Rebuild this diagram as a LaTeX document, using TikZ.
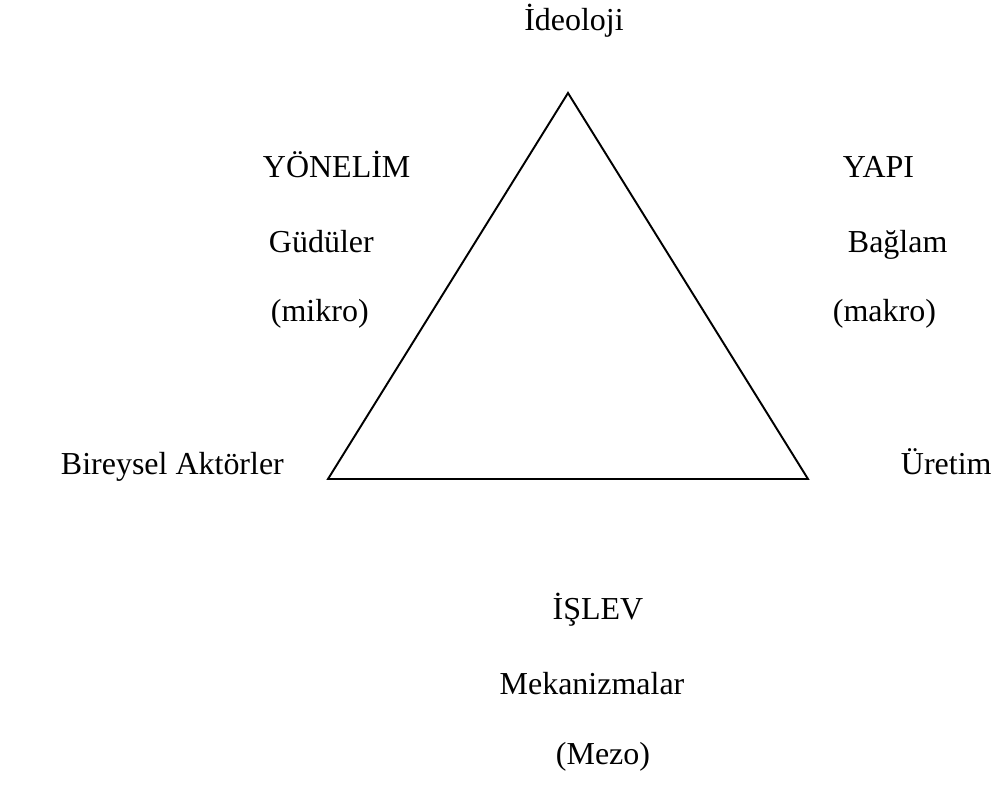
\documentclass[tikz,border=0pt]{standalone}
\usepackage{fontspec}
\setmainfont{Liberation Serif}
\usetikzlibrary{positioning,calc}

\begin{document}
\begin{tikzpicture}[x=0.02cm, y=-0.02cm, line width=1.1pt, every node/.style={font=\fontsize{18.2}{22}\selectfont, inner sep=0pt}]

\useasboundingbox (0,0) rectangle (995,785);

\coordinate (apex) at (568, 93);
\coordinate (left) at (328, 479);
\coordinate (right) at (808, 479);
\draw[line join=miter] (apex) -- (left) -- (right) -- cycle;
\draw[line width=1.5pt] (left) -- (right);

\path (574, 30) node[anchor=base] (ideoloji) {İdeoloji};

\path (262, 177) node[anchor=base west] (yonelim) {YÖNELİM};
\path (268, 252) node[anchor=base west] (guduler) {Güdüler};
\path (270, 321) node[anchor=base west] (mikro) {(mikro)};

\path (842, 177) node[anchor=base west] (yapi) {YAPI};
\path (847, 252) node[anchor=base west] (baglam) {Bağlam};
\path (832, 321) node[anchor=base west] (makro) {(makro)};

\path (60, 474) node[anchor=base west] (aktorler) {Bireysel Aktörler};
\path (900, 474) node[anchor=base west] (uretim) {Üretim};

\path (598, 619) node[anchor=base] (islev) {İŞLEV};
\path (592, 694) node[anchor=base] (mekanizma) {Mekanizmalar};
\path (603, 764) node[anchor=base] (mezo) {(Mezo)};
\end{tikzpicture}
\end{document}
